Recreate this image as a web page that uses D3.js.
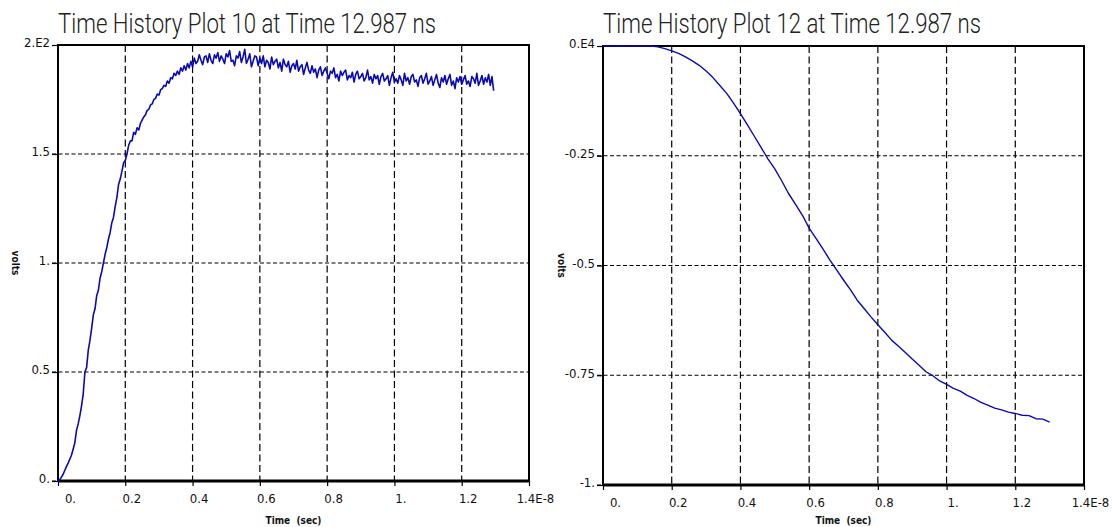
<!DOCTYPE html>
<html>
<head>
<meta charset="utf-8">
<script src="https://cdn.jsdelivr.net/npm/d3@7"></script>
<style>
  body { margin: 0; background: #fff; }
  svg { display: block; }
  .title { font-family: Roboto, "Liberation Sans", sans-serif; font-weight: 300; font-size: 27px; fill: #222; }
  .ticklbl text { font-family: "Liberation Sans Narrow", "DejaVu Sans Condensed", "Liberation Sans", sans-serif; font-size: 13px; fill: #111; }
  .axlbl { font-family: "Liberation Sans Narrow", "DejaVu Sans Condensed", sans-serif; font-size: 10px; font-weight: bold; fill: #111; white-space: pre; }
</style>
</head>
<body>
<div id="chart"></div>
<script>
// Data
//====================
var xTicks = [0, 0.2, 0.4, 0.6, 0.8, 1.0, 1.2, 1.4];
var xTickLabels = ["0.", "0.2", "0.4", "0.6", "0.8", "1.", "1.2", "1.4E-8"];

var leftYTicks = [0, 0.5, 1, 1.5, 2];
var leftYTickLabels = ["0.", "0.5", "1.", "1.5", "2.E2"];
var rightYTicks = [-1, -0.75, -0.5, -0.25, 0];
var rightYTickLabels = ["-1.", "-0.75", "-0.5", "-0.25", "0.E4"];

// plot 10 sampled every 0.005 (x1E-8 s), volts x1E2
var leftDt = 0.005;
var leftVolts = [
  0.000, 0.005, 0.018, 0.030, 0.048, 0.066, 0.082, 0.100, 0.118, 0.146,
  0.175, 0.232, 0.262, 0.300, 0.345, 0.400, 0.500, 0.520, 0.600, 0.645,
  0.700, 0.762, 0.790, 0.850, 0.875, 0.930, 0.960, 1.000, 1.040, 1.070,
  1.110, 1.140, 1.185, 1.210, 1.260, 1.300, 1.360, 1.385, 1.420, 1.460,
  1.470, 1.500, 1.540, 1.560, 1.560, 1.600, 1.590, 1.620, 1.610, 1.640,
  1.655, 1.670, 1.680, 1.700, 1.705, 1.725, 1.730, 1.750, 1.755, 1.775,
  1.770, 1.795, 1.800, 1.815, 1.810, 1.835, 1.825, 1.850, 1.845, 1.870,
  1.860, 1.880, 1.865, 1.895, 1.880, 1.905, 1.885, 1.915, 1.895, 1.925,
  1.900,
  1.940, 1.915, 1.925, 1.955, 1.930, 1.910, 1.945, 1.950, 1.920, 1.960,
  1.930, 1.915, 1.955, 1.940, 1.965, 1.925, 1.950, 1.935, 1.915, 1.960,
  1.945, 1.975, 1.925, 1.930, 1.905, 1.950, 1.940, 1.970, 1.920, 1.945,
  1.980, 1.915, 1.935, 1.960, 1.900, 1.925, 1.950, 1.945, 1.905, 1.940,
  1.915, 1.950, 1.900, 1.930, 1.920, 1.890, 1.945, 1.910, 1.925, 1.935,
  1.895, 1.920, 1.880, 1.935, 1.910, 1.900, 1.925, 1.875, 1.905, 1.915,
  1.890, 1.930, 1.880, 1.900, 1.910, 1.865, 1.895, 1.920, 1.885, 1.870,
  1.905, 1.875, 1.890, 1.850, 1.885, 1.900, 1.860, 1.880, 1.895, 1.870,
  1.845, 1.880, 1.870, 1.895, 1.850, 1.865, 1.835, 1.880, 1.860, 1.875,
  1.885, 1.840, 1.860, 1.850, 1.875, 1.830, 1.865, 1.880, 1.845, 1.855,
  1.870, 1.835, 1.850, 1.885, 1.840, 1.855, 1.825, 1.865, 1.845, 1.860,
  1.820, 1.855, 1.870, 1.835, 1.845, 1.860, 1.815, 1.850, 1.875, 1.830,
  1.845, 1.825, 1.860, 1.840, 1.815, 1.870, 1.835, 1.850, 1.820, 1.855,
  1.865, 1.830, 1.840, 1.810, 1.850, 1.860, 1.825, 1.845, 1.870, 1.820,
  1.835, 1.855, 1.815, 1.840, 1.865, 1.825, 1.805, 1.850, 1.830, 1.860,
  1.820, 1.845, 1.865, 1.815, 1.835, 1.800, 1.850, 1.830, 1.855, 1.820,
  1.840, 1.860, 1.820, 1.835, 1.810, 1.855, 1.845, 1.825, 1.870, 1.815,
  1.835, 1.860, 1.820, 1.850, 1.830, 1.865, 1.815, 1.855, 1.790
];

// plot 12 sampled every 0.02 (x1E-8 s), volts x1E4
var rightDt = 0.02;
var rightVolts = [
  0, 0, 0, 0, 0, 0, 0, 0, -0.002, -0.006,
  -0.011, -0.017, -0.025, -0.034, -0.044, -0.057, -0.072, -0.090, -0.108, -0.130,
  -0.154, -0.179, -0.205, -0.231, -0.257, -0.280, -0.307, -0.336, -0.360, -0.385,
  -0.415, -0.438, -0.462, -0.487, -0.510, -0.533, -0.555, -0.579, -0.598, -0.617,
  -0.635, -0.652, -0.670, -0.684, -0.698, -0.713, -0.727, -0.742, -0.751, -0.763,
  -0.771, -0.780, -0.786, -0.796, -0.803, -0.812, -0.818, -0.825, -0.829, -0.834,
  -0.837, -0.841, -0.842, -0.849, -0.850, -0.857
];

var svgWidth = 1112;
var svgHeight = 527;

var svg = d3.select("#chart").append("svg")
    .attr("width", svgWidth)
    .attr("height", svgHeight);

function drawPanel(p) {
  var x = d3.scaleLinear().domain([0, 1.4]).range([p.left, p.right]);
  var y = d3.scaleLinear().domain([p.yTicks[0], p.yTicks[p.yTicks.length - 1]]).range([p.bottom, p.top]);
  var g = svg.append("g");

  g.append("text")
    .attr("class", "title")
    .attr("x", p.left)
    .attr("y", 33)
    .attr("textLength", 378)
    .attr("lengthAdjust", "spacingAndGlyphs")
    .text(p.title);

  // grid lines
  //====================
  g.selectAll(".hgrid").data(p.yTicks.slice(0, -1)).enter().append("line")
    .attr("x1", p.left - 6).attr("x2", p.right)
    .attr("y1", d => y(d)).attr("y2", d => y(d))
    .attr("stroke", "#000").attr("stroke-width", 1.2)
    .attr("stroke-dasharray", "4,2.5");

  g.selectAll(".vgrid").data(xTicks.slice(1, -1)).enter().append("line")
    .attr("x1", d => x(d)).attr("x2", d => x(d))
    .attr("y1", p.top).attr("y2", p.bottom)
    .attr("stroke", "#000").attr("stroke-width", 1.2)
    .attr("stroke-dasharray", "7,3.5");

  // axes
  //====================
  var xAxis = d3.axisBottom(x).tickValues(xTicks)
    .tickFormat((d, i) => xTickLabels[i]).tickSize(5).tickPadding(8);
  var xg = g.append("g").attr("class", "ticklbl")
    .attr("transform", `translate(0, ${p.bottom})`).call(xAxis);
  xg.select(".domain").remove();
  xg.selectAll("line").attr("stroke", "#000").attr("stroke-width", 1.2);
  xg.selectAll("text").attr("dx", (d, i) => i == 0 ? 12 : 6);

  var yAxis = d3.axisLeft(y).tickValues(p.yTicks)
    .tickFormat((d, i) => p.yLabels[i]).tickSize(6).tickPadding(2);
  var yg = g.append("g").attr("class", "ticklbl")
    .attr("transform", `translate(${p.left}, 0)`).call(yAxis);
  yg.select(".domain").remove();
  yg.selectAll("line").attr("stroke", "#000").attr("stroke-width", 1.2);
  yg.selectAll("text").attr("dy", "0.15em");

  // frame
  g.append("rect")
    .attr("x", p.left).attr("y", p.top)
    .attr("width", p.right - p.left).attr("height", p.bottom - p.top)
    .attr("fill", "none").attr("stroke", "#000").attr("stroke-width", 2);
  g.append("line")
    .attr("x1", p.left).attr("x2", p.right)
    .attr("y1", p.bottom).attr("y2", p.bottom)
    .attr("stroke", "#000").attr("stroke-width", 3);

  // labels
  g.append("text").attr("class", "axlbl")
    .attr("x", (p.left + p.right) / 2).attr("y", 524)
    .attr("text-anchor", "middle")
    .text("Time  (sec)");
  g.append("text").attr("class", "axlbl")
    .attr("transform", `translate(${p.yLabelX}, ${(p.top + p.bottom) / 2}) rotate(90)`)
    .attr("text-anchor", "middle")
    .text("volts");

  // curve
  var line = d3.line()
    .x((d, i) => x(i * p.dt))
    .y(d => y(d));
  g.append("path")
    .datum(p.values)
    .attr("d", line)
    .attr("fill", "none")
    .attr("stroke", "#0a0ab4")
    .attr("stroke-width", p.width)
    .attr("stroke-linejoin", "round");
}

drawPanel({
  title: "Time History Plot 10 at Time 12.987 ns",
  left: 58, right: 529, top: 45, bottom: 481,
  yTicks: leftYTicks, yLabels: leftYTickLabels,
  yLabelX: 12, dt: leftDt, values: leftVolts, width: 1.6
});

drawPanel({
  title: "Time History Plot 12 at Time 12.987 ns",
  left: 603, right: 1084, top: 46, bottom: 485,
  yTicks: rightYTicks, yLabels: rightYTickLabels,
  yLabelX: 558, dt: rightDt, values: rightVolts, width: 1.4
});
</script>
</body>
</html>
